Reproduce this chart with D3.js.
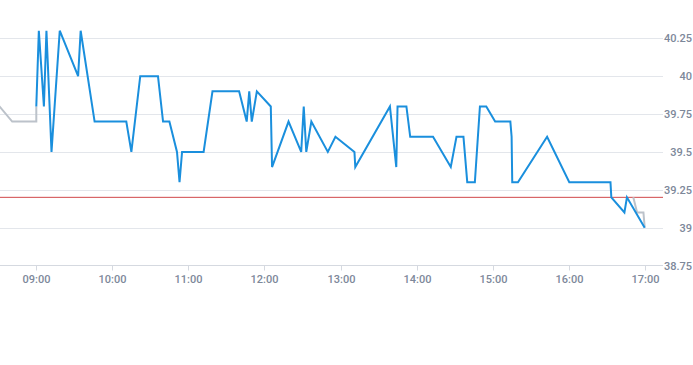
<!DOCTYPE html>
<html>
<head>
<meta charset="utf-8">
<script src="https://cdn.jsdelivr.net/npm/d3@7"></script>
<style>
  html, body { margin: 0; padding: 0; background: #fff; }
  svg { display: block; }
  text { font-family: Roboto, "Noto Sans", sans-serif; }
</style>
</head>
<body>
<script>
// intraday prices, HH:MM(:SS)
var mainTimes = ["09:00","09:02","09:06","09:08","09:12","09:18:30","09:33","09:35","09:46","10:11","10:15","10:22","10:36","10:40","10:45","10:51","10:53","10:55","11:12","11:19","11:40","11:46","11:48","11:50","11:54","12:05","12:06","12:19","12:29","12:31","12:33","12:37","12:50","12:56","13:11","13:11:40","13:39","13:44","13:45","13:52","13:55","14:13","14:27","14:31:30","14:37","14:40","14:46","14:50","14:55","15:02","15:14","15:15","15:15:30","15:20","15:43","16:00:30","16:33","16:33:40","16:44","16:46","17:00"];
var mainValues = [39.8,40.3,39.8,40.3,39.5,40.3,40.0,40.3,39.7,39.7,39.5,40.0,40.0,39.7,39.7,39.5,39.3,39.5,39.5,39.9,39.9,39.7,39.9,39.7,39.9,39.8,39.4,39.7,39.5,39.8,39.5,39.7,39.5,39.6,39.5,39.4,39.8,39.4,39.8,39.8,39.6,39.6,39.4,39.6,39.6,39.3,39.3,39.8,39.8,39.7,39.7,39.6,39.3,39.3,39.6,39.3,39.3,39.2,39.1,39.2,39.0];

// pre-open and closing auction
var preTimes = ["08:28","08:41","09:00","09:00"];
var preValues = [39.83,39.7,39.7,39.8];
var closeTimes = ["16:51","16:54","16:59","17:00"];
var closeValues = [39.2,39.1,39.1,39.0];

var prevClose = 39.2;
var yTicks = [38.75,39,39.25,39.5,39.75,40,40.25];
var xTicks = ["09:00","10:00","11:00","12:00","13:00","14:00","15:00","16:00","17:00"];

var W = 693, H = 365;
var plotRight = 663, axisY = 265.5;

var parse = function(s) {
  var p = s.split(":");
  return new Date(2020, 0, 2, +p[0], +p[1], p[2] ? +p[2] : 0);
};

var x = d3.scaleTime()
  .domain([parse("09:00"), parse("17:00")])
  .range([36.3, 644.7]);
var y = d3.scaleLinear()
  .domain([38.75, 40.25])
  .range([axisY, 38.3]);

var svg = d3.select("body").append("svg")
  .attr("width", W)
  .attr("height", H);

svg.append("clipPath").attr("id", "clip")
  .append("rect").attr("x", 0).attr("y", 0).attr("width", plotRight).attr("height", H);

// grid
svg.append("g").selectAll("line")
  .data(yTicks.slice(1))
  .enter().append("line")
  .attr("x1", 0).attr("x2", plotRight)
  .attr("y1", function(d) { return Math.round(y(d)) + 0.5; })
  .attr("y2", function(d) { return Math.round(y(d)) + 0.5; })
  .attr("stroke", "#e3e6eb").attr("stroke-width", 1);

// y labels on the right
svg.append("g").selectAll("text")
  .data(yTicks)
  .enter().append("text")
  .attr("x", 692)
  .attr("y", function(d) { return y(d) + 4; })
  .attr("text-anchor", "end")
  .attr("font-size", 11)
  .attr("font-weight", 500)
  .attr("fill", "#7d889a")
  .text(function(d) { return d; });

// x axis
svg.append("line")
  .attr("x1", 0).attr("x2", plotRight)
  .attr("y1", axisY).attr("y2", axisY)
  .attr("stroke", "#d5d9e0");
var xt = svg.append("g").selectAll("g")
  .data(xTicks)
  .enter().append("g")
  .attr("transform", function(d) { return "translate(" + Math.round(x(parse(d))) + ".5,0)"; });
xt.append("line")
  .attr("y1", axisY).attr("y2", axisY + 5)
  .attr("stroke", "#d5d9e0");
xt.append("text")
  .attr("y", axisY + 17)
  .attr("text-anchor", "middle")
  .attr("font-size", 11)
  .attr("font-weight", 500)
  .attr("fill", "#7d889a")
  .text(function(d) { return d; });

// previous close
svg.append("line")
  .attr("x1", 0).attr("x2", plotRight)
  .attr("y1", y(prevClose)).attr("y2", y(prevClose))
  .attr("stroke", "#d0474a").attr("stroke-width", 1);

var line = d3.line()
  .x(function(d) { return x(parse(d[0])); })
  .y(function(d) { return y(d[1]); });

var plot = svg.append("g").attr("clip-path", "url(#clip)");
var grayColor = "#bcc2ca";
plot.append("path")
  .datum(d3.zip(preTimes, preValues))
  .attr("d", line)
  .attr("fill", "none").attr("stroke", grayColor).attr("stroke-width", 2);
plot.append("path")
  .datum(d3.zip(closeTimes, closeValues))
  .attr("d", line)
  .attr("fill", "none").attr("stroke", grayColor).attr("stroke-width", 2);
plot.append("path")
  .datum(d3.zip(mainTimes, mainValues))
  .attr("d", line)
  .attr("fill", "none").attr("stroke", "#1a8fdd").attr("stroke-width", 2)
  .attr("stroke-linejoin", "miter");
</script>
</body>
</html>
